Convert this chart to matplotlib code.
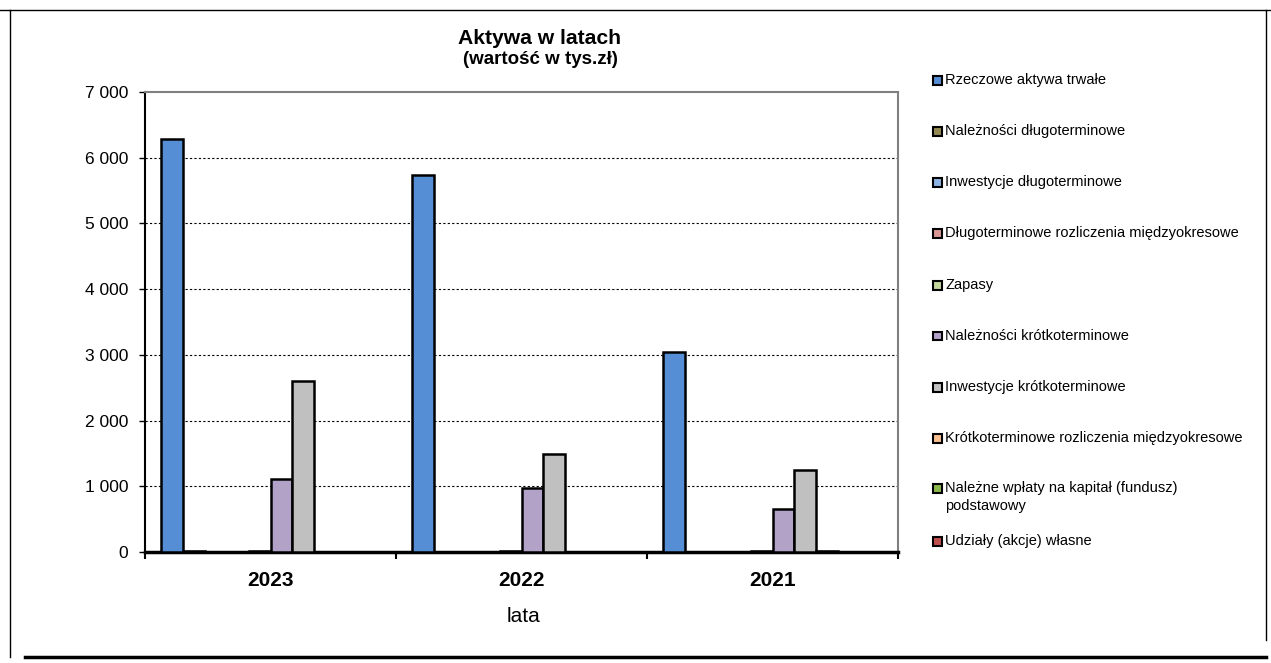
import matplotlib
matplotlib.use("Agg")
import matplotlib.pyplot as plt
from matplotlib.patches import Rectangle
from matplotlib.lines import Line2D
from matplotlib.ticker import FuncFormatter, FixedLocator
import numpy as np

plt.rcParams['font.family'] = ['Liberation Sans', 'DejaVu Sans']

# ---- data ----
years = ["2023", "2022", "2021"]
series_names = [
    "Rzeczowe aktywa trwałe",
    "Należności długoterminowe",
    "Inwestycje długoterminowe",
    "Długoterminowe rozliczenia międzyokresowe",
    "Zapasy",
    "Należności krótkoterminowe",
    "Inwestycje krótkoterminowe",
    "Krótkoterminowe rozliczenia międzyokresowe",
    "Należne wpłaty na kapitał (fundusz)\npodstawowy",
    "Udziały (akcje) własne",
]
rzeczowe = [6290, 5730, 3045]
nal_dlugo = [10, 0, 0]
inw_dlugo = [0, 0, 0]
rozl_dlugo = [0, 0, 0]
zapasy = [10, 10, 10]
nal_krotko = [1115, 975, 655]
inw_krotko = [2605, 1495, 1250]
rozl_krotko = [0, 0, 20]
nalezne_wplaty = [0, 0, 0]
udzialy = [0, 0, 0]
values = [rzeczowe, nal_dlugo, inw_dlugo, rozl_dlugo, zapasy,
          nal_krotko, inw_krotko, rozl_krotko, nalezne_wplaty, udzialy]
colors = ["#558ED5", "#948A54", "#8EB4E3", "#D99694", "#C3D69B",
          "#B3A2C7", "#C0C0C0", "#FAC090", "#8CB94B", "#C0504D"]

W, H = 1271, 663
fig = plt.figure(figsize=(W / 100, H / 100), dpi=100)

def fx(px):
    return px / W

def fy(py):
    return 1 - py / H

# outer frame
fig.add_artist(Line2D([fx(0), fx(1271)], [fy(10), fy(10)], color="black", lw=1.0, transform=fig.transFigure))
fig.add_artist(Line2D([fx(10), fx(10)], [fy(10), fy(657)], color="black", lw=1.0, transform=fig.transFigure))
fig.add_artist(Line2D([fx(1266), fx(1266)], [fy(10), fy(640)], color="black", lw=1.0, transform=fig.transFigure))
fig.add_artist(Line2D([fx(25), fx(1266)], [fy(657), fy(657)], color="black", lw=2.5, transform=fig.transFigure))

ax = fig.add_axes([fx(145), fy(552), fx(898) - fx(145), (552 - 92) / H])

nser = len(values)
slot = 1 / (nser + 1.5)
x0 = np.arange(len(years))
for j, (vals, c) in enumerate(zip(values, colors)):
    ax.bar(x0 + 0.75 * slot + j * slot, vals, width=slot, align="edge",
           color=c, edgecolor="black", linewidth=1.8, zorder=3)

ax.set_xlim(0, len(years))
ax.set_ylim(0, 7000)
ax.set_yticks(np.arange(0, 7001, 1000))
ax.yaxis.set_major_formatter(FuncFormatter(lambda v, p: f"{int(v):,}".replace(",", " ")))
for yv in range(1000, 7000, 1000):
    ax.axhline(yv, color="black", lw=0.8, ls=(0, (2, 2)), zorder=1)

ax.xaxis.set_major_locator(FixedLocator([0, 1, 2, 3]))
ax.xaxis.set_minor_locator(FixedLocator(x0 + 0.5))
ax.set_xticklabels([], minor=False)
ax.set_xticklabels(years, minor=True, fontsize=15, fontweight="bold")
ax.tick_params(axis="x", which="major", length=5, width=1.5, direction="out")
ax.tick_params(axis="x", which="minor", length=0, pad=14)
ax.tick_params(axis="y", which="major", length=4, width=1.0, direction="out", labelsize=12.5, pad=8)

for s in ["left", "bottom"]:
    ax.spines[s].set_color("black")
    ax.spines[s].set_linewidth(1.5)
for s in ["top", "right"]:
    ax.spines[s].set_color("#808080")
    ax.spines[s].set_linewidth(1.5)
ax.spines["bottom"].set_linewidth(2.5)

fig.text(fx(540), fy(39), "Aktywa w latach", ha="center", va="center", fontsize=15.2, fontweight="bold")
fig.text(fx(540), fy(60), "(wartość w tys.zł)", ha="center", va="center", fontsize=13.5, fontweight="bold")
fig.text(fx(523), fy(616), "lata", ha="center", va="center", fontsize=15)

# legend
leg_y = [80, 131, 182, 233, 285, 336, 387, 438, 488, 541]
for name, c, yy in zip(series_names, colors, leg_y):
    fig.add_artist(Rectangle((fx(933), fy(yy + 4.5)), fx(9), 9 / H, facecolor=c,
                             edgecolor="black", lw=1.5, transform=fig.transFigure))
    lines = name.split("\n")
    fig.text(fx(945), fy(yy), lines[0], ha="left", va="center", fontsize=10.5)
    if len(lines) > 1:
        fig.text(fx(945), fy(yy + 18), lines[1], ha="left", va="center", fontsize=10.5)

fig.savefig("out.png", dpi=100)
